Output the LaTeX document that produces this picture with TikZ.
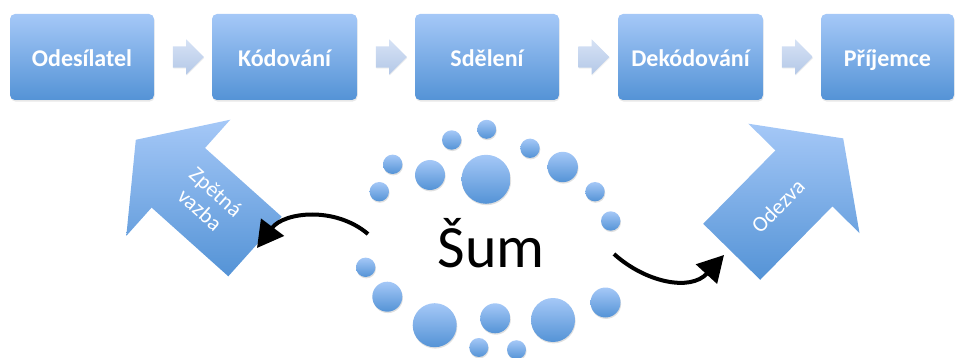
\documentclass[tikz,border=0pt]{standalone}
\usepackage{fontspec}
\setmainfont{Carlito}
\usetikzlibrary{arrows.meta,shapes.arrows,calc,shadows}
\definecolor{bt}{RGB}{165,200,247}
\definecolor{bb}{RGB}{84,147,214}
\definecolor{st}{RGB}{214,226,245}
\definecolor{sb}{RGB}{180,200,231}
\tikzset{
  box/.style={rounded corners=5pt, top color=bt, bottom color=bb, draw=none,
    minimum height=86pt, text=white, inner sep=0pt, text height=22pt, text depth=2.6pt,
    font=\bfseries\fontsize{24}{28}\selectfont,
    drop shadow={opacity=0.18, shadow xshift=0.6pt, shadow yshift=-1.6pt}},
  conn/.style={single arrow, single arrow head extend=7pt, single arrow head indent=0pt,
    inner xsep=0pt, inner ysep=10.5pt, minimum height=31pt, top color=st, bottom color=sb, draw=none,
    drop shadow={opacity=0.12, shadow xshift=0.5pt, shadow yshift=-1pt}},
  bigarrow/.style={top color=bt, bottom color=bb, draw=none},
  dot/.style={top color=bt, bottom color=bb, draw=none},
  dotshadow/.style={fill=black, opacity=0.12},
  curve/.style={line width=4pt, -{Triangle[length=26pt,width=28pt]}},
  arrowtext/.style={text=white, font=\fontsize{22}{24}\selectfont, align=center, inner sep=0pt},
}
\begin{document}
\begin{tikzpicture}[x=1pt,y=-1pt]
\useasboundingbox (0,0) rectangle (956,358);
% boxes
\node[box, minimum width=144pt] (b1) at (82,57) {Odesílatel};
\node[box, minimum width=145pt] (b2) at (284.5,57) {Kódování};
\node[box, minimum width=144pt] (b3) at (487,57) {Sdělení};
\node[box, minimum width=145pt] (b4) at (690.5,57) {Dekódování};
\node[box, minimum width=133pt] (b5) at (887.5,57) {Příjemce};
% small connector arrows
\node[conn] (c1) at ($(b1.east)!0.5!(b2.west)$) {};
\node[conn] (c2) at ($(b2.east)!0.5!(b3.west)$) {};
\node[conn] (c3) at ($(b3.east)!0.5!(b4.west)$) {};
\node[conn] (c4) at ($(b4.east)!0.5!(b5.west)$) {};
% big arrows
\path[bigarrow] (281.7,216.7) -- (205,148) -- (230.3,119.7) -- (135.8,139.8)
  -- (126.3,235.9) -- (151.6,207.6) -- (228.3,276.3) -- cycle;
\node[arrowtext, rotate=-41.8] (zv) at (208,201) {Zpětná\\vazba};
\path[bigarrow] (703.2,223.8) -- (775.4,150.4) -- (748.3,123.7) -- (843.2,138.4)
  -- (859.5,233.1) -- (832.4,206.4) -- (760.2,279.8) -- cycle;
\node[arrowtext, rotate=45.5] (od) at (778,206) {Odezva};
% dots
\foreach \x/\y/\r in {486.7/129.3/9.5, 451.7/140/9.7, 530/148.3/9.7, 392.7/164.3/9.7,
  430/175/15, 486/179.3/24.5, 562.7/167/15.2, 379.3/191.7/9.7, 595/191.7/9.7,
  610.7/221/9.7, 365.7/267.3/9.7, 387.3/296.7/15, 434.7/325.2/22, 495.2/318.3/15,
  553/320/22, 605.5/302.5/15, 478.8/347.5/9.5, 516.5/349.7/9.5}{
  \path[dotshadow] (\x+0.6,\y+1.4) circle (\r);
  \path[dot] (\x,\y) circle (\r);
}
% noise label
\node[font=\fontsize{60}{66}\selectfont, anchor=base, inner sep=0pt] (sum) at (491,268) {Šum};
% curved arrows
\coordinate (ls) at (368,234);
\coordinate (le) at (257,248);
\coordinate (rs) at (614,254);
\coordinate (re) at (724,255);
\draw[curve] (ls) .. controls (335,206) and (284,212) .. (le);
\draw[curve] (rs) .. controls (645,282) and (690,292) .. (re);
\end{tikzpicture}
\end{document}
